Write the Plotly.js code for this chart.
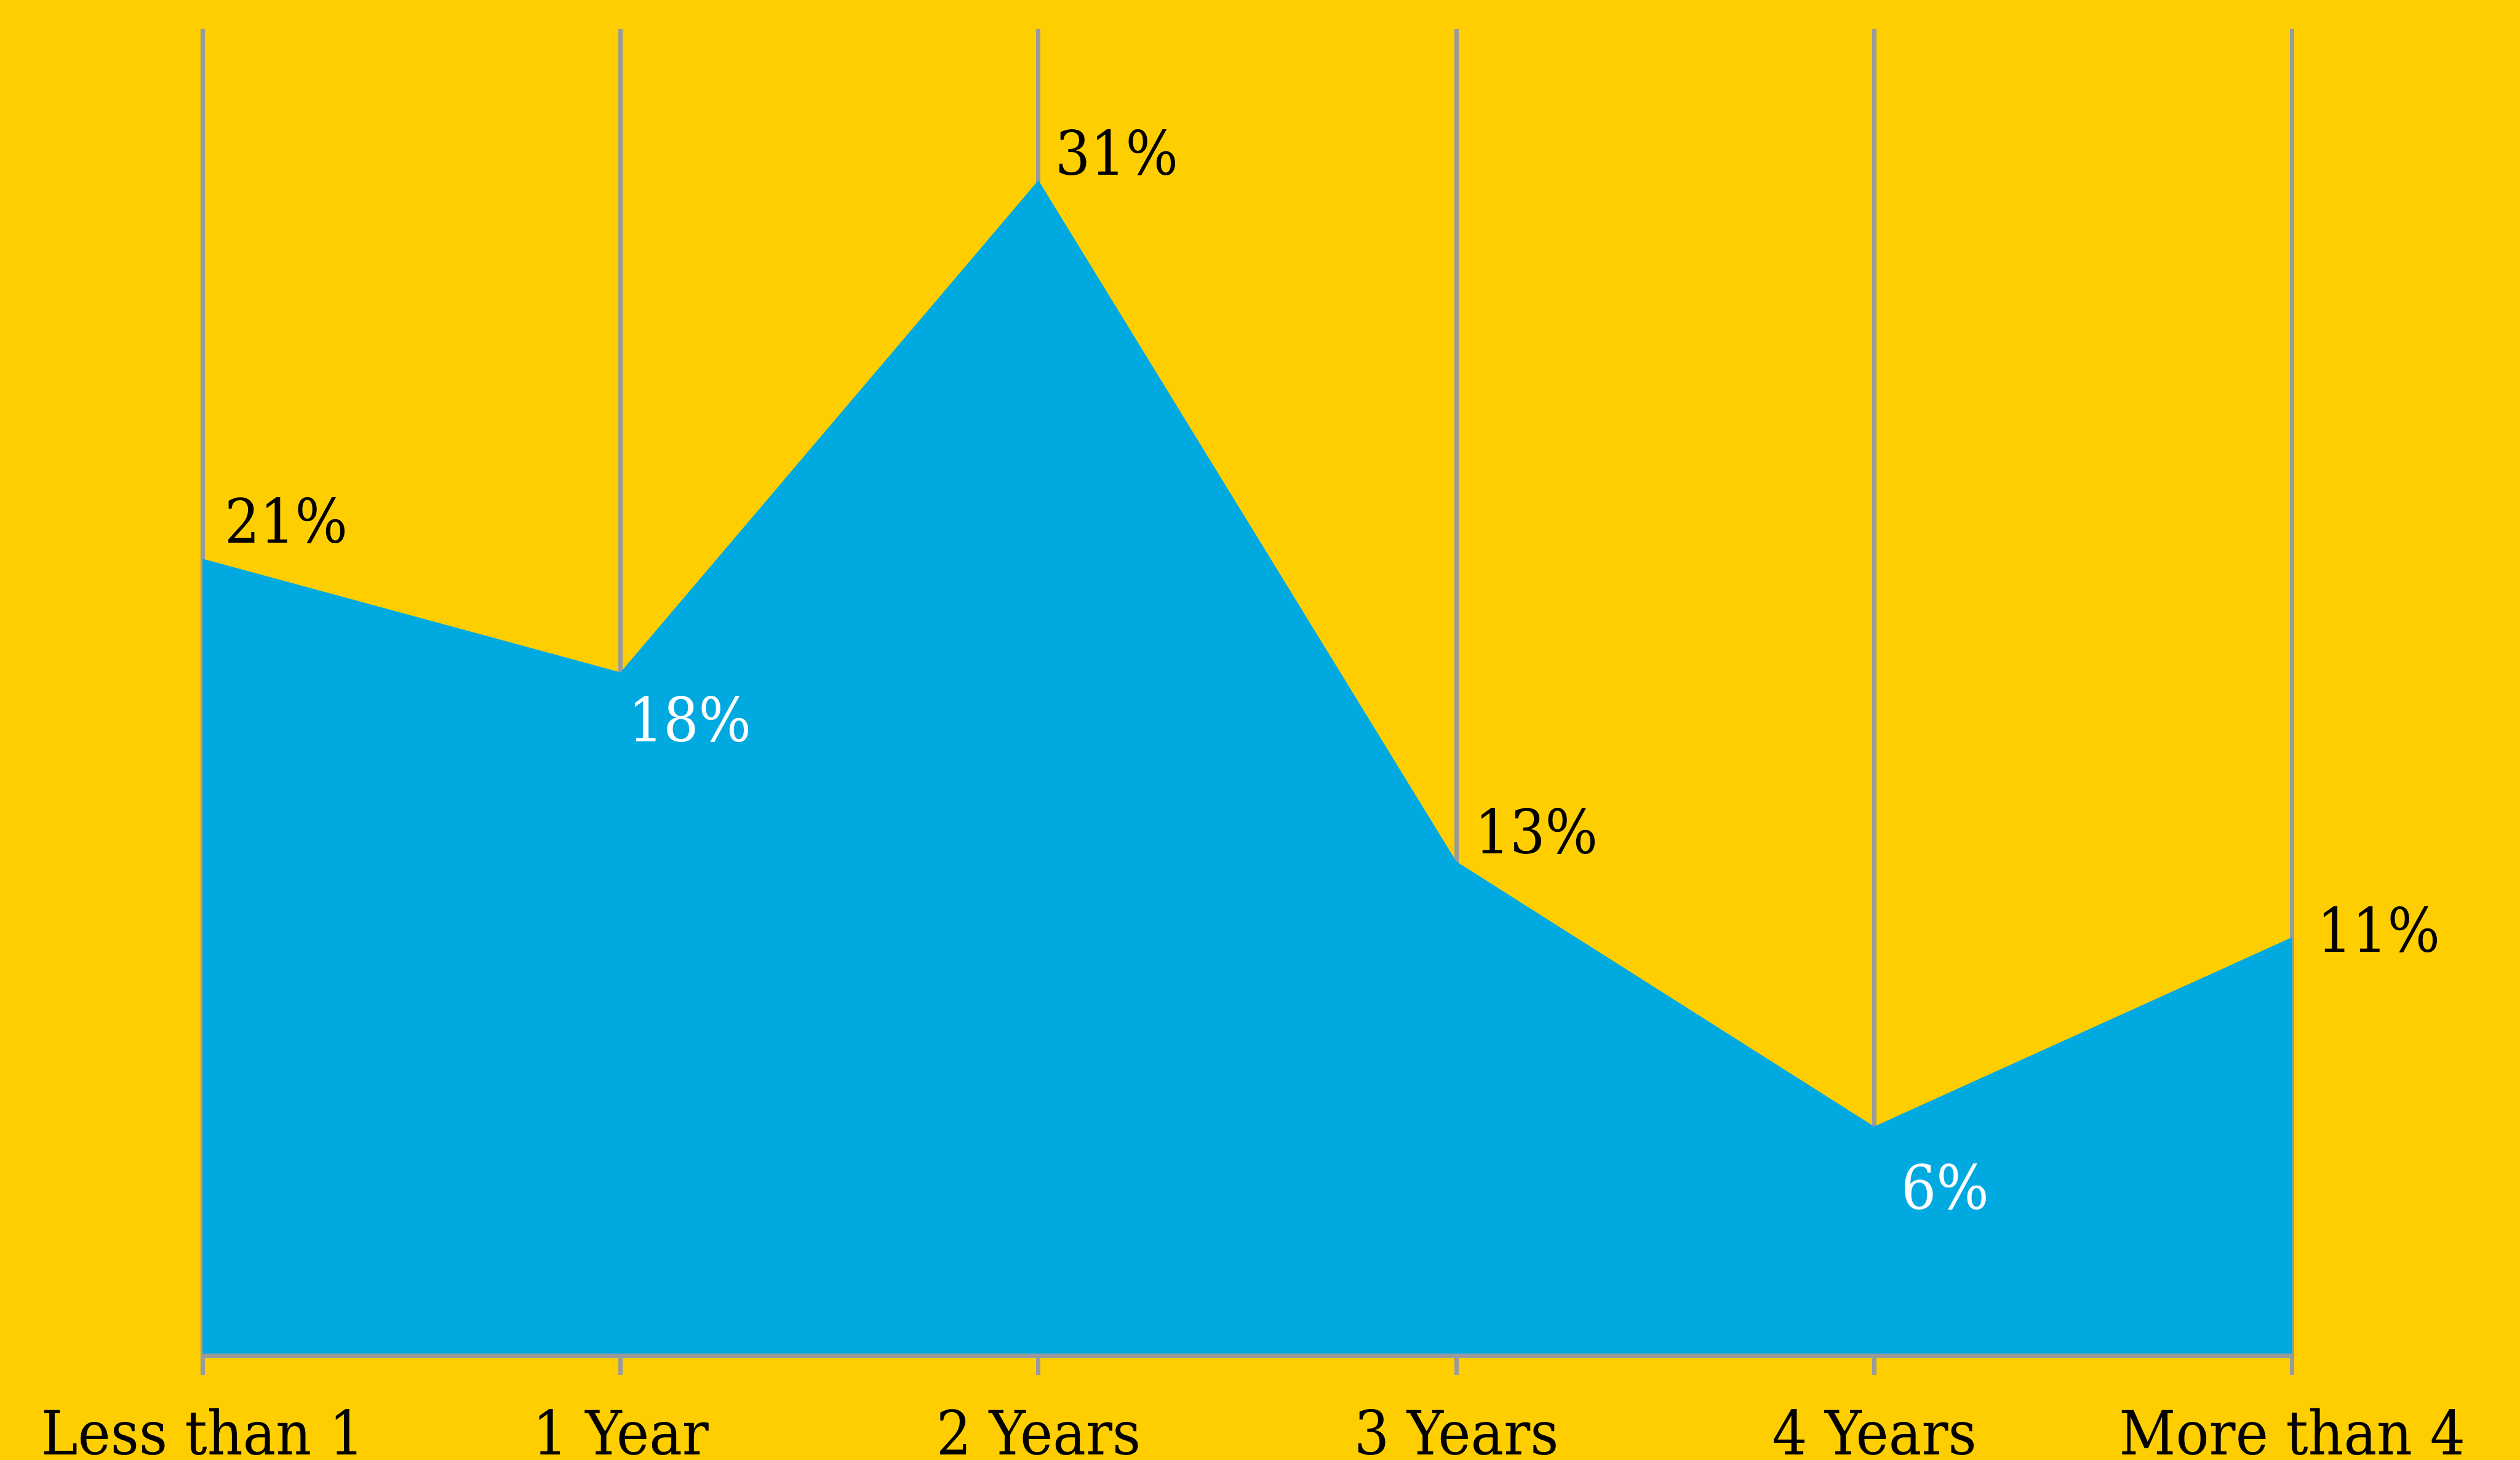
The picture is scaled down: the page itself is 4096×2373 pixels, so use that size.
<!DOCTYPE html>
<html>
<head>
<meta charset="utf-8">
<script src="https://cdn.plot.ly/plotly-3.0.1.min.js"></script>
<style>
  html, body { margin: 0; padding: 0; background: #FFCE00; }
  #chart { width: 4096px; height: 2373px; }
</style>
</head>
<body>
<div id="chart"></div>
<script>
// ---- data ----
const categories = ["Less than 1", "1 Year", "2 Years", "3 Years", "4 Years", "More than 4"];
const values = [21, 18, 31, 13, 6, 11];

// ---- label placement / style (per point) ----
const labelShiftX = [34, 10, 25, 28, 42, 38];
const labelShiftY = [61, -78, 44, 48, -100, 11];
const labelColors = ["#000000", "#FFFFFF", "#000000", "#000000", "#FFFFFF", "#000000"];

const FONT = "'DejaVu Serif Condensed', 'DejaVu Serif', serif";
const YELLOW = "#FFCE00";
const BLUE = "#00A9E0";
const GRAY = "#9A9A9A";

const trace = {
  type: "scatter",
  mode: "lines",
  x: categories,
  y: values,
  fill: "tozeroy",
  fillcolor: BLUE,
  line: { width: 0, color: BLUE },
  hoverinfo: "skip",
  showlegend: false
};

const annotations = categories.map((c, i) => ({
  x: c,
  y: values[i],
  xref: "x",
  yref: "y",
  text: values[i] + "%",
  showarrow: false,
  xanchor: "left",
  yanchor: "middle",
  xshift: labelShiftX[i],
  yshift: labelShiftY[i],
  font: { family: FONT, size: 100, color: labelColors[i] }
}));

const edgePad = 0.005;

const layout = {
  width: 4096,
  height: 2373,
  paper_bgcolor: YELLOW,
  plot_bgcolor: YELLOW,
  margin: { l: 325.6, r: 366.6, t: 47, b: 173, pad: 0 },
  showlegend: false,
  xaxis: {
    type: "category",
    range: [-edgePad, categories.length - 1 + edgePad],
    showgrid: true,
    gridcolor: GRAY,
    gridwidth: 7,
    showline: true,
    linecolor: GRAY,
    linewidth: 7,
    ticks: "outside",
    ticklen: 28,
    tickwidth: 7,
    tickcolor: GRAY,
    ticklabelstandoff: 9,
    tickfont: { family: FONT, size: 100, color: "#000000" },
    zeroline: false,
    fixedrange: true
  },
  yaxis: {
    range: [0, 35],
    showgrid: false,
    zeroline: false,
    showline: false,
    showticklabels: false,
    ticks: "",
    fixedrange: true
  },
  annotations: annotations
};

Plotly.newPlot("chart", [trace], layout, { displayModeBar: false, staticPlot: true });
</script>
</body>
</html>
